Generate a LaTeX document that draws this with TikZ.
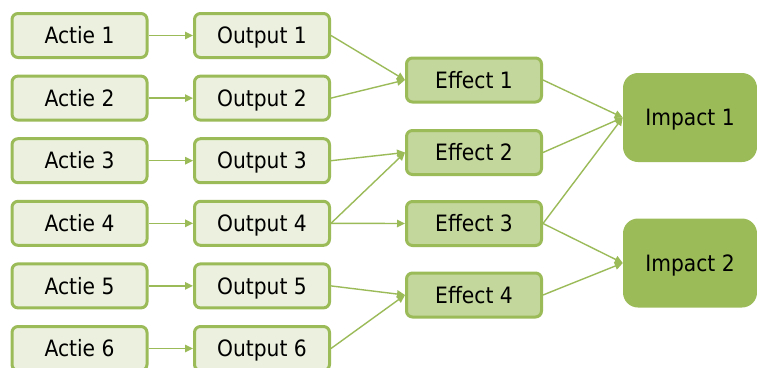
\documentclass[tikz,border=0pt]{standalone}
\usepackage{fontspec}
\setmainfont{DejaVu Sans Condensed}
\usetikzlibrary{arrows.meta}
\definecolor{olgreen}{HTML}{9BBB59}
\definecolor{palegreen}{HTML}{EBF1DE}
\definecolor{midgreen}{HTML}{C3D69B}
\begin{document}
\begin{tikzpicture}[x=1pt,y=-1pt,
  box/.style={draw=olgreen, line width=3pt, rounded corners=6pt,
    minimum width=135pt, minimum height=44pt, inner sep=0pt,
    text height=16.5pt, text depth=0pt,
    font=\fontsize{22.5}{26}\selectfont, text=black},
  actbox/.style={box, fill=palegreen},
  effbox/.style={box, fill=midgreen},
  impbox/.style={fill=olgreen, rounded corners=15pt,
    minimum width=134pt, minimum height=89pt, inner sep=0pt,
    text height=16.5pt, text depth=0pt,
    font=\fontsize{22.5}{26}\selectfont, text=black},
  link/.style={draw=olgreen, line width=1.4pt,
    -{Triangle[length=8pt,width=7.5pt]}}]
\useasboundingbox (0,0) rectangle (757,367);

% actions and outputs
\foreach \i/\y in {1/35.5,2/98.1,3/160.7,4/223.3,5/285.9,6/348.5}{
  \node[actbox] (a\i) at (79.5,\y) {Actie \i};
  \node[actbox] (o\i) at (262,\y) {Output \i};
}

% effects
\node[effbox] (e1) at (474,80) {Effect 1};
\node[effbox] (e2) at (474,152.5) {Effect 2};
\node[effbox] (e3) at (474,223.5) {Effect 3};
\node[effbox] (e4) at (474,295) {Effect 4};

% impacts
\node[impbox] (i1) at (690,117.5) {Impact 1};
\node[impbox] (i2) at (690,263) {Impact 2};

% connectors
\foreach \i in {1,...,6}{
  \draw[link] (a\i.east) -- (o\i.west);
}
\draw[link] (o1.east) -- (e1.west);
\draw[link] (o2.east) -- (e1.west);
\draw[link] (o3.east) -- (e2.west);
\draw[link] (o4.east) -- (e2.west);
\draw[link] (o4.east) -- (e3.west);
\draw[link] (o5.east) -- (e4.west);
\draw[link] (o6.east) -- (e4.west);
\draw[link] (e1.east) -- (i1.west);
\draw[link] (e2.east) -- (i1.west);
\draw[link] (e3.east) -- (i1.west);
\draw[link] (e3.east) -- (i2.west);
\draw[link] (e4.east) -- (i2.west);
\end{tikzpicture}
\end{document}
